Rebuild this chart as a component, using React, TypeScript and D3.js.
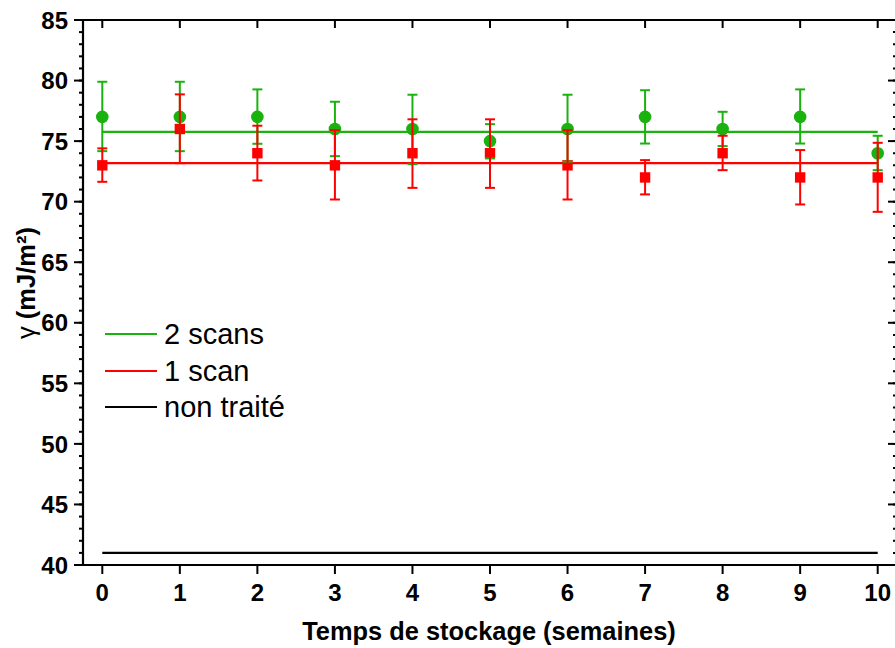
import React from "react";
import * as d3 from "d3";

const weeks = [0, 1, 2, 3, 4, 5, 6, 7, 8, 9, 10];
const scan2Values = [77, 77, 77, 76, 76, 75, 76, 77, 76, 77, 74];
const scan2Upper = [79.9, 79.9, 79.27, 78.25, 78.83, 76.4, 78.83, 79.2, 77.42, 79.27, 75.44];
const scan2Lower = [74.17, 74.17, 74.78, 73.76, 73.1, 73.57, 73.3, 74.8, 74.59, 74.8, 72.6];
const scan1Values = [73, 76, 74, 73, 74, 74, 73, 72, 74, 72, 72];
const scan1Upper = [74.4, 78.86, 76.27, 75.9, 76.8, 76.8, 75.9, 73.43, 75.44, 74.26, 74.86];
const scan1Lower = [71.64, 73.18, 71.75, 70.18, 71.14, 71.14, 70.18, 70.6, 72.6, 69.77, 69.16];
const fitLevels = [75.77, 73.18, 41];
const legendLabels = ["2 scans", "1 scan", "non traité"];
const xTicks = [0, 1, 2, 3, 4, 5, 6, 7, 8, 9, 10];
const yTicks = [40, 45, 50, 55, 60, 65, 70, 75, 80, 85];
const yMinorTicks = d3.range(40, 86, 1);

const GREEN = "#1ab20e";
const RED = "#ff0000";
const BLACK = "#000000";
const colors = [GREEN, RED, BLACK];
const FONT = "'Liberation Sans', Arial, Helvetica, sans-serif";

export default function App() {
  const W = 895, H = 648;
  const left = 83, right = 897.5, top = 20, bottom = 565;
  const x = d3.scaleLinear().domain([0, 10]).range([102.3, 877.7]);
  const y = d3.scaleLinear().domain([40, 85]).range([bottom, top]);

  const series = [
    { vals: scan2Values, up: scan2Upper, lo: scan2Lower, color: GREEN, shape: "circle" },
    { vals: scan1Values, up: scan1Upper, lo: scan1Lower, color: RED, shape: "square" },
  ];
  const capW = 5;

  return (
    <svg width={W} height={H} style={{ position: "absolute", left: 0, top: 0, background: "#fff" }}
      fontFamily={FONT}>
      {fitLevels.map((lv, i) => (
        <line key={"fit" + i} x1={x(0)} x2={x(10)} y1={y(lv)} y2={y(lv)}
          stroke={colors[i]} strokeWidth={2.2} />
      ))}
      {series.map((s, si) => (
        <g key={"sym" + si}>
          {weeks.map((w, i) =>
            s.shape === "circle" ? (
              <circle key={i} cx={x(w)} cy={y(s.vals[i])} r={6.3} fill={s.color} />
            ) : (
              <rect key={i} x={x(w) - 5.2} y={y(s.vals[i]) - 5.2} width={10.4} height={10.4} fill={s.color} />
            )
          )}
        </g>
      ))}
      {series.map((s, si) => (
        <g key={"err" + si} stroke={s.color} strokeWidth={2}>
          {weeks.map((w, i) => (
            <g key={i}>
              <line x1={x(w)} x2={x(w)} y1={y(s.up[i])} y2={y(s.lo[i])} />
              <line x1={x(w) - capW} x2={x(w) + capW} y1={y(s.up[i])} y2={y(s.up[i])} />
              <line x1={x(w) - capW} x2={x(w) + capW} y1={y(s.lo[i])} y2={y(s.lo[i])} />
            </g>
          ))}
        </g>
      ))}

      <g stroke="#000" strokeWidth={2.2} fill="none">
        <line x1={left} x2={left} y1={top - 1} y2={bottom + 1} />
        <line x1={left - 1} x2={right} y1={bottom} y2={bottom} />
        <line x1={left - 1} x2={right} y1={top} y2={top} />
        <line x1={right} x2={right} y1={top} y2={bottom} />
      </g>
      <g stroke="#000" strokeWidth={2}>
        {yMinorTicks.map((t) => (
          <line key={"lm" + t} x1={left - 4} x2={left} y1={y(t)} y2={y(t)} />
        ))}
        {yTicks.map((t) => (
          <line key={"lM" + t} x1={left - 9} x2={left} y1={y(t)} y2={y(t)} />
        ))}
        {yMinorTicks.map((t) => (
          <line key={"rm" + t} x1={right - 4.5} x2={right} y1={y(t)} y2={y(t)} />
        ))}
        {yTicks.map((t) => (
          <line key={"rM" + t} x1={right - 9.5} x2={right} y1={y(t)} y2={y(t)} />
        ))}
        {xTicks.map((t) => (
          <line key={"bM" + t} x1={x(t)} x2={x(t)} y1={bottom} y2={bottom + 9} />
        ))}
        {xTicks.map((t) => (
          <line key={"tM" + t} x1={x(t)} x2={x(t)} y1={top} y2={top + 8} />
        ))}
      </g>
      <g fontSize={24} fontWeight="bold" fill="#000">
        {yTicks.map((t) => (
          <text key={"yl" + t} x={left - 15} y={y(t)} dy="0.36em" textAnchor="end">{t}</text>
        ))}
        {xTicks.map((t) => (
          <text key={"xl" + t} x={x(t)} y={601} textAnchor="middle">{t}</text>
        ))}
      </g>
      <text x={(left + 895) / 2} y={640} textAnchor="middle" fontSize={25.4} fontWeight="bold">
        Temps de stockage (semaines)
      </text>
      <text transform={`translate(35, ${283}) rotate(-90)`} textAnchor="middle" fontSize={25.5} fontWeight="bold">
        <tspan fontWeight="normal">γ</tspan> (mJ/m²)
      </text>
      {legendLabels.map((lab, i) => {
        const ly = [334, 371, 407][i];
        return (
          <g key={"lg" + i}>
            <line x1={105} x2={157} y1={ly} y2={ly} stroke={colors[i]} strokeWidth={2.2} />
            <text x={164} y={ly} dy="0.36em" fontSize={29} fill="#000">{lab}</text>
          </g>
        );
      })}
    </svg>
  );
}
